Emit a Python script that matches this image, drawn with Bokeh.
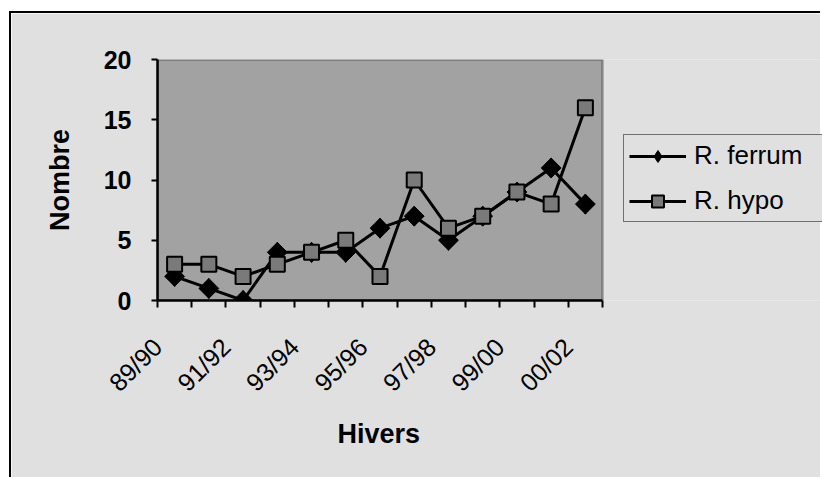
import math
from bokeh.plotting import figure
from bokeh.models import Range1d, FixedTicker, Legend, LegendItem, BoxAnnotation, Title
from bokeh.embed import file_html
from bokeh.resources import INLINE

hivers = ["89/90", "90/91", "91/92", "92/93", "93/94", "94/95", "95/96",
          "96/97", "97/98", "98/99", "99/00", "00/01", "00/02"]
ferrum = [2, 1, 0, 4, 4, 4, 6, 7, 5, 7, 9, 11, 8]
hypo = [3, 3, 2, 3, 4, 5, 2, 10, 6, 7, 9, 8, 16]
y_ticks = [0, 5, 10, 15, 20]

n = len(hivers)
xs = [i + 0.5 for i in range(n)]  # category centres; boundaries at integers
FONT = "Liberation Sans"
OUTER = "#e0e0e0"
INNER = "#a2a2a2"

W, H = 811, 466
LEFT, TOP, BOTTOM = 146, 46, 179
PLOT_W = 445                      # width of the grey plot area in pixels
frame_w = W - LEFT
x_end = n * frame_w / PLOT_W      # frame extends right to hold the legend

p = figure(width=W, height=H, output_backend="svg", toolbar_location=None,
           x_range=Range1d(0, x_end), y_range=Range1d(0, y_ticks[-1]),
           min_border_left=LEFT, min_border_right=0, min_border_top=TOP,
           min_border_bottom=BOTTOM)
p.styles = {"margin-left": "9px", "margin-top": "11px",
            "border-left": "2px solid black", "border-top": "2px solid black"}
p.border_fill_color = OUTER
p.background_fill_color = OUTER
p.outline_line_color = None
p.xgrid.visible = False
p.ygrid.visible = False

p.add_layout(BoxAnnotation(left=0, right=n, bottom=0, top=y_ticks[-1],
                           fill_color=INNER, fill_alpha=1, line_color="black",
                           line_width=2.5, level="underlay"))

r1 = p.line(xs, ferrum, line_color="black", line_width=3)
m1 = p.scatter(xs, ferrum, marker="diamond", size=20,
               fill_color="black", line_color="black")
p.scatter(xs, ferrum, marker="square", angle=math.pi / 4, size=14,
          fill_color="black", line_color="black")
r2 = p.line(xs, hypo, line_color="black", line_width=3)
m2 = p.scatter(xs, hypo, marker="square", size=15, fill_color="#7a7a7a",
               line_color="black", line_width=2)

xa = p.xaxis[0]
xa.bounds = (0, n)
xa.ticker = FixedTicker(ticks=list(range(n + 1)), minor_ticks=[])
xa.major_label_overrides = {i: (hivers[i] if i < n and i % 2 == 0 else "")
                            for i in range(n + 1)}
xa.major_label_orientation = math.pi / 4
xa.major_tick_out = 7
xa.major_tick_in = 0
xa.major_tick_line_width = 2
xa.minor_tick_line_color = None
xa.axis_line_width = 2.5
xa.major_label_text_font = FONT
xa.major_label_text_font_size = "25px"
xa.major_label_text_color = "black"
xa.major_label_standoff = 35

p.add_layout(Title(text="Hivers", align="left", offset=180, standoff=14,
                   text_font=FONT, text_font_style="bold",
                   text_font_size="27px", text_color="black"), "below")

ya = p.yaxis[0]
ya.ticker = FixedTicker(ticks=y_ticks)
ya.minor_tick_line_color = None
ya.major_tick_out = 6
ya.major_tick_in = 0
ya.major_tick_line_width = 2
ya.axis_line_width = 2.5
ya.major_label_text_font = FONT
ya.major_label_text_font_style = "bold"
ya.major_label_text_font_size = "25px"
ya.major_label_text_color = "black"
ya.major_label_standoff = 20
ya.axis_label = "Nombre"
ya.axis_label_text_font = FONT
ya.axis_label_text_font_style = "bold"
ya.axis_label_text_font_size = "27px"
ya.axis_label_text_color = "black"
ya.axis_label_standoff = 26

legend = Legend(items=[LegendItem(label="R. ferrum", renderers=[r1, m1]),
                       LegendItem(label="R. hypo", renderers=[r2, m2])],
                location=(466, 78))
legend.background_fill_color = OUTER
legend.background_fill_alpha = 1
legend.border_line_color = "black"
legend.border_line_width = 1.5
legend.label_text_font = FONT
legend.label_text_font_size = "26px"
legend.label_text_color = "black"
legend.label_standoff = 8
legend.label_width = 150
legend.glyph_width = 57
legend.glyph_height = 30
legend.spacing = 14
legend.padding = 5
legend.margin = 0
p.add_layout(legend, "center")

open("out.html", "w").write(file_html(p, INLINE))
